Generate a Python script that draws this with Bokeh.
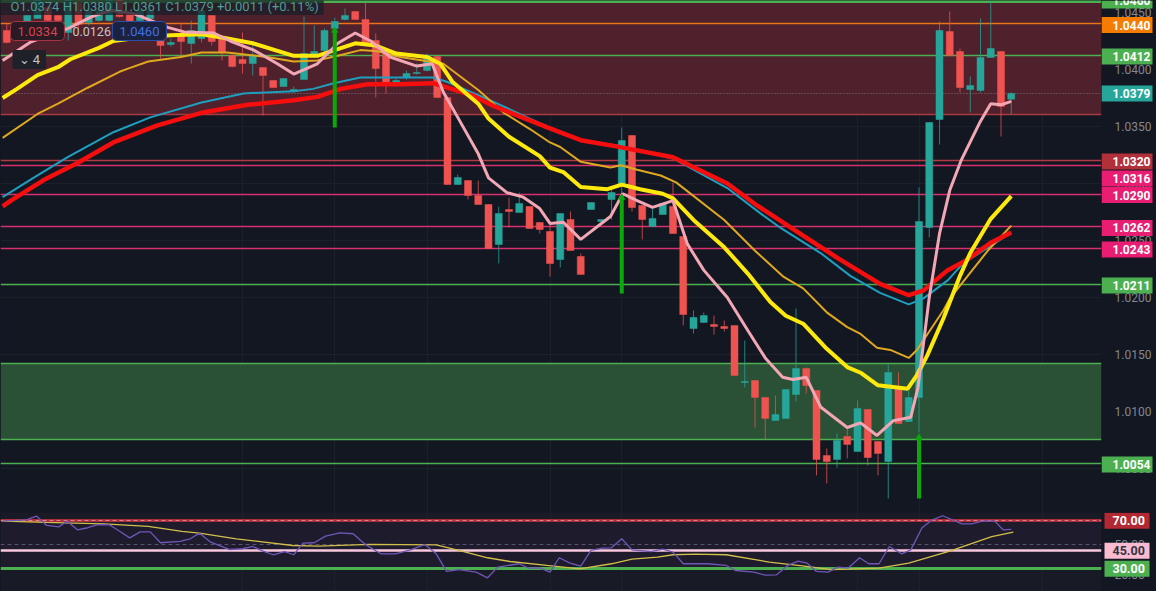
from bokeh.embed import file_html
from bokeh.resources import INLINE
from bokeh.plotting import figure
from bokeh.layouts import column
from bokeh.core.properties import value
from bokeh.models import Range1d, FixedTicker, NumeralTickFormatter, Label, ColumnDataSource

# ---------- candles (index, open, high, low, close) ----------
candle_idx = list(range(-3, 96))
opens = [
 1.04342,1.04412,1.04386,1.04447,1.04544,1.04474,1.04325,1.04579,1.04412,1.04430,
 1.04430,1.04605,1.04482,1.04430,1.04447,1.04316,1.04219,1.04316,1.04228,1.04272,
 1.04474,1.04272,1.04123,1.04088,1.04053,1.04018,1.03904,1.03851,1.03807,1.03912,
 1.04123,1.04167,1.04360,1.04439,1.04509,1.04439,1.04254,1.04149,1.03860,1.03930,
 1.03965,1.03991,1.04114,1.03754,1.02991,1.03026,1.02895,1.02816,1.02465,1.02772,
 1.02746,1.02798,1.02658,1.02579,1.02333,1.02684,1.02360,1.02772,1.02667,1.02860,
 1.02991,1.03421,1.02807,1.02623,1.02728,1.02798,1.02535,1.01728,1.01781,1.01763,
 1.01746,1.01754,1.01254,1.01272,1.01123,1.00921,1.00939,1.01149,1.01377,1.01184,
 1.00614,1.00579,1.00781,1.00649,1.01018,1.00737,1.00561,1.01211,1.00912,1.01123,
 1.02614,1.03561,1.04333,1.04158,1.03825,1.03816,1.04105,1.04158,1.0374]
highs = [
 1.04404,1.04421,1.04482,1.04605,1.04561,1.04482,1.04605,1.04605,1.04535,1.04535,
 1.04605,1.04605,1.04509,1.04535,1.04535,1.04325,1.04272,1.04412,1.04430,1.04535,
 1.04474,1.04272,1.04123,1.04325,1.04228,1.04018,1.03904,1.03921,1.03851,1.04465,
 1.04386,1.04360,1.04456,1.04535,1.04509,1.04605,1.04316,1.04149,1.03921,1.03991,
 1.04053,1.04140,1.04114,1.03754,1.03079,1.03026,1.03026,1.02816,1.02798,1.02877,
 1.02921,1.02798,1.02658,1.02649,1.02737,1.02754,1.02386,1.02833,1.02684,1.02956,
 1.03491,1.03421,1.02807,1.02781,1.02825,1.03009,1.02535,1.01886,1.01868,1.01842,
 1.01798,1.01754,1.01623,1.01272,1.01123,1.01140,1.01193,1.01903,1.01386,1.01184,
 1.00675,1.00807,1.00860,1.01097,1.01018,1.00737,1.01412,1.01342,1.01184,1.02965,
 1.03535,1.04421,1.04509,1.04184,1.03939,1.04447,1.04605,1.04158,1.0380]
lows = [
 1.04228,1.04333,1.04377,1.04447,1.04430,1.04421,1.04254,1.04360,1.04386,1.04421,
 1.04421,1.04456,1.04325,1.04421,1.04430,1.04097,1.04202,1.04105,1.04053,1.04237,
 1.04211,1.04079,1.04018,1.03965,1.03947,1.03596,1.03842,1.03851,1.03798,1.03912,
 1.04105,1.04097,1.04325,1.04430,1.04439,1.04202,1.03754,1.03789,1.03851,1.03912,
 1.03956,1.03982,1.03754,1.02991,1.02991,1.02860,1.02816,1.02430,1.02298,1.02614,
 1.02746,1.02605,1.02561,1.02184,1.02263,1.02412,1.02202,1.02772,1.02667,1.02684,
 1.02877,1.02754,1.02509,1.02623,1.02728,1.02561,1.01754,1.01684,1.01781,1.01675,
 1.01702,1.01316,1.01211,1.00860,1.00754,1.00921,1.00939,1.01088,1.01158,1.00439,
 1.00368,1.00509,1.00588,1.00649,1.00526,1.00439,1.00237,1.00895,1.00912,1.00816,
 1.02526,1.03342,1.04114,1.03798,1.03623,1.03798,1.04105,1.03412,1.0361]
closes = [
 1.04237,1.04342,1.04474,1.04605,1.04430,1.04430,1.04605,1.04395,1.04518,1.04518,
 1.04605,1.04465,1.04342,1.04518,1.04518,1.04211,1.04237,1.04246,1.04342,1.04518,
 1.04246,1.04149,1.04026,1.04053,1.04123,1.03947,1.03842,1.03921,1.03825,1.04140,
 1.04158,1.04342,1.04421,1.04474,1.04439,1.04211,1.04009,1.03877,1.03904,1.03965,
 1.03974,1.04123,1.03754,1.02991,1.03053,1.02895,1.02816,1.02430,1.02737,1.02754,
 1.02825,1.02605,1.02597,1.02298,1.02737,1.02412,1.02202,1.02833,1.02684,1.02921,
 1.03377,1.02789,1.02684,1.02693,1.02825,1.02561,1.01851,1.01825,1.01842,1.01746,
 1.01728,1.01316,1.01263,1.01123,1.00939,1.00974,1.01193,1.01377,1.01228,1.00579,
 1.00561,1.00746,1.00711,1.01026,1.00596,1.00632,1.01342,1.00895,1.01123,1.02667,
 1.03535,1.04342,1.04123,1.03842,1.03860,1.04105,1.04184,1.03675,1.0379]

# ---------- moving averages ----------
yellow_idx = [-3.4,-2,0,2,3.2,6,7.4,10,13,16,18,21,25,27.3,29,31,33,35,38,39.3,40.5,43,44,46,49,50,51.3,53,55.6,57,58.8,61,62,64,67,69.3,71.5,73,74.7,77,79,80.3,82,84.9,85.8,86.8,88.4,90,91,93,95]
yellow_val = [1.0375,1.0383,1.0395,1.0402,1.0409,1.0419,1.0425,1.0428,1.0430,1.0431,1.0428,1.0423,1.0412,1.0412,1.0417,1.0423,1.0421,1.0414,1.0411,1.0405,1.0389,1.0370,1.0357,1.0341,1.0324,1.0314,1.0310,1.0297,1.0295,1.0299,1.0295,1.0291,1.0287,1.0268,1.0244,1.0221,1.0196,1.0184,1.0177,1.0155,1.0139,1.0134,1.0123,1.0120,1.0132,1.0149,1.0182,1.0219,1.0239,1.0269,1.0289]
gold_idx = [-3.4,0,2,4.9,8,8.9,10.8,14,16,18.5,22.4,25,27.3,29.3,31.5,33.2,35.4,39.6,43,45.5,48,50,51,53,55.9,56.9,58.5,60.8,62.3,67,70,72.8,74.7,77,79,80.3,81.9,83.2,85,85.8,88.4,89,92.7,95]
gold_val = [1.0340,1.0361,1.0370,1.0384,1.0398,1.0401,1.0407,1.0411,1.0415,1.0415,1.0411,1.0407,1.0408,1.0412,1.0417,1.0416,1.0411,1.0405,1.0382,1.0362,1.0348,1.0336,1.0332,1.0319,1.0314,1.0316,1.0312,1.0307,1.0301,1.0268,1.0241,1.0218,1.0208,1.0187,1.0174,1.0168,1.0156,1.0154,1.0147,1.0154,1.0189,1.0199,1.0241,1.0263]
teal_idx = [-3.4,-0.4,2.9,7.4,11,16,20.1,25,26.9,28.9,31.5,35.4,38.6,40,43.9,49,53,56.9,62,67.3,70.5,72.5,76.4,79.3,82.2,85,86.4,88.8,90.3,93.3,95]
teal_val = [1.0288,1.0305,1.0323,1.0345,1.0358,1.0371,1.0379,1.0381,1.0383,1.0388,1.0393,1.0393,1.0393,1.0389,1.0374,1.0353,1.0338,1.0333,1.0322,1.0296,1.0274,1.0261,1.0239,1.0219,1.0204,1.0194,1.0199,1.0215,1.0230,1.0247,1.0257]
red_idx = [-3.4,-2.6,0.6,3.9,7.4,11.7,16,20.5,25,27.3,29.6,32.2,35.4,38.6,42.5,44.5,49.8,53,56.2,62,67.3,70,74.4,78,80,82.2,85,86.4,88.8,90.5,93,95]
red_val = [1.0280,1.0285,1.0303,1.0318,1.0336,1.0351,1.0362,1.0369,1.0373,1.0376,1.0383,1.0387,1.0387,1.0388,1.0377,1.0368,1.0349,1.0338,1.0333,1.0323,1.0300,1.0282,1.0256,1.0235,1.0224,1.0212,1.0202,1.0206,1.0224,1.0232,1.0248,1.0257]
pink_idx = [-3.4,-0.7,3,5.2,7.1,9.4,12.7,14.3,17.2,18.8,21.1,23.4,25,27.3,29.3,31,32.5,34.4,37,38.5,39.6,41,43,44,45.8,47.4,49,50,51.3,53,55.9,57.1,58.5,60,62,63.4,65,67.3,69.3,71,72.7,73.7,75,76.4,79,80.3,81.9,83.5,85.2,85.9,87,88,89,90.1,91.9,93,94,95]
pink_val = [1.0408,1.0424,1.0436,1.0446,1.0452,1.0449,1.0437,1.0433,1.0432,1.0425,1.0417,1.0405,1.0396,1.0405,1.0423,1.0432,1.0425,1.0411,1.0403,1.0405,1.0380,1.0358,1.0326,1.0305,1.0292,1.0288,1.0278,1.0265,1.0266,1.0251,1.0271,1.0291,1.0285,1.0279,1.0285,1.0247,1.0224,1.0200,1.0171,1.0147,1.0130,1.0128,1.0130,1.0104,1.0086,1.0090,1.0079,1.0092,1.0095,1.0121,1.0200,1.0256,1.0294,1.0320,1.0353,1.0370,1.0369,1.0372]

# ---------- RSI ----------
rsi_idx = [-3.4,-1.1,-0.1,0.9,2.1,2.9,3.9,4.9,5.9,7,7.9,9,10,11,12,13.9,14.9,15.8,16.9,18.7,20,21,22,23,24.1,25,25.9,27,28.1,29.5,30.8,31.9,33.5,34.9,36.4,37.8,38.9,39.9,41.1,42.8,43.9,44.9,47,47.9,49,50,50.9,51.9,53,54,55.1,56,57,58,59.8,61,62,63,65.4,67.2,68.1,69.9,71,72.1,73.2,74.2,75.1,76,77.1,78.1,79.1,80.2,81.1,82.1,83.1,84.3,85.2,86.3,87.2,88.3,90.2,91.1,92.2,93.4,94.2,95]
rsi_val = [69.7,70.8,73.9,66.1,65,69.7,62.5,64.2,66.7,66.7,61.9,55.8,60.8,60.8,51.7,52.8,55,59.7,52.2,46.1,46.7,48.6,44.7,41.7,44.4,41.7,51.4,51.7,57.2,60,59.2,50.8,42.5,42.5,45.8,50.3,42.5,27.8,29.4,27.2,22.5,31.4,34.2,30.6,30.8,27.2,39.2,35,32.2,45.3,47.2,47.5,55,45.8,44.4,46.4,43.9,34.2,34.2,32.8,28.6,27.2,24.7,25,32.8,36.4,34.7,27.8,27.2,31.4,30.6,39.2,34.2,34.2,48.6,42.5,45.8,64.2,70.3,74.2,67.5,67.5,69.7,69.7,62.5,62.8]
rsi_ma_idx = [-3.4,0.8,6.5,10.8,14.1,15.8,19.4,24.9,27.4,32.4,38.9,41.4,43.9,46.1,49.7,52.9,56,58,60.5,62,64.2,67.2,71.4,74.6,77.5,82.1,85,89,93.1,95.2]
rsi_ma_val = [69.7,68.6,67.5,65.3,61.1,59.7,55,49.4,48.9,50.3,50,44.7,39.2,36.1,32.8,30,34.2,38.1,39.7,41.7,42.2,41.7,35.6,32.5,29.4,30.6,34.7,44.7,56.9,60.6]

# ---------- levels, zones, tags ----------
level_prices = [1.0460,1.0440,1.0412,1.03605,1.0320,1.0316,1.0290,1.0262,1.0243,1.0211,1.01421,1.00754,1.0054]
level_colors = ["#4caf50","#e8751a","#4caf50","#a83a42","#b23a40","#d6306f","#d6306f","#d6306f","#d6306f","#4caf50","#4caf50","#4caf50","#4caf50"]
level_widths = [3,1.5,1.5,1.5,1.5,1.5,1.5,1.5,1.5,1.5,1.5,1.5,1.5]
zone_bottoms = [1.03605,1.00754]
zone_tops = [1.0460,1.01421]
zone_colors = ["#4e212c","#2a5135"]
last_price = [1.0379]
arrow_idx = [29,57,86]
arrow_top = [1.04342,1.02877,1.00772]
arrow_bot = [1.03491,1.02035,1.00237]
price_ticks = [1.0450,1.0400,1.0350,1.0300,1.0250,1.0200,1.0150,1.0100,1.0050]
time_grid = [20,29,38,50,57,80,86,98]
tag_texts = ["1.0460","1.0440","1.0412","1.0379","1.0320","1.0316","1.0290","1.0262","1.0243","1.0211","1.0054"]
tag_prices = [1.04605,1.0439,1.04114,1.03789,1.03193,1.03044,1.02899,1.0261,1.02421,1.02105,1.00535]
tag_fills = ["#4caf50","#f57c00","#4caf50","#26a69a","#b2303a","#e91e73","#e91e73","#e91e73","#e91e73","#4caf50","#4caf50"]
rsi_levels = [70,45,30]
rsi_level_colors = ["#b22d3a","#f8c8dc","#4caf50"]
rsi_level_widths = [3,2.5,3]
rsi_ticks = [75,50,25]
rsi_tag_texts = ["70.00","45.00","30.00"]
rsi_tag_fills = ["#b22833","#f8bbd0","#4caf50"]
rsi_tag_colors = ["#ffffff","#333340","#ffffff"]
legend_text = "O1.0374 H1.0380 L1.0361 C1.0379 +0.0011 (+0.11%)"

BG = "#131722"
UP, DOWN = "#26a69a", "#ef5350"
FONT = "Roboto"

# overlay helpers (pixel of the frame -> data), used only for the page furniture
def X(px): return (px - 37) / 10.25
def Y(py): return 1.04 + (69 - py) * 87.72e-6

x_range = Range1d(X(0), X(1101))
price_range = Range1d(Y(512), Y(0))
rsi_range = Range1d(11.1, 76.9)

p = figure(width=1156, height=512, x_range=x_range, y_range=price_range,
           output_backend="svg", toolbar_location=None, x_axis_location=None, y_axis_location="right",
           min_border_left=0, min_border_top=0, min_border_bottom=0, min_border_right=55,
           background_fill_color=BG, border_fill_color=BG, outline_line_color=None)
p.yaxis.ticker = FixedTicker(ticks=price_ticks)
p.yaxis.formatter = NumeralTickFormatter(format="0.0000")
p.yaxis.major_tick_line_color = None
p.yaxis.minor_tick_line_color = None
p.yaxis.axis_line_color = None
p.yaxis.major_label_text_color = "#83868f"
p.yaxis.major_label_text_font = FONT
p.yaxis.major_label_text_font_size = "12px"
p.yaxis.major_label_standoff = 7
p.ygrid.grid_line_color = "#1c202b"
p.xgrid.ticker = FixedTicker(ticks=time_grid)
p.xgrid.grid_line_color = "#1c202b"

p.hstrip(y0=zone_bottoms, y1=zone_tops, fill_color=zone_colors, line_color=None)
p.hspan(y=level_prices, line_color=level_colors, line_width=level_widths)
p.hspan(y=last_price, line_color="#8f9aa0", line_width=1, line_dash="1 2", line_alpha=0.7)

colors = [UP if c >= o else DOWN for o, c in zip(opens, closes)]
src = ColumnDataSource(dict(x=candle_idx, o=opens, h=highs, l=lows, c=closes, color=colors))
p.segment("x", "h", "x", "l", color="color", line_width=1, line_alpha=0.75, source=src)
p.vbar("x", width=0.68, top="o", bottom="c", fill_color="color", line_color="color", line_width=0.5, source=src)

p.line(teal_idx, teal_val, line_color="#1f9fbf", line_width=2)
p.line(gold_idx, gold_val, line_color="#dfa81e", line_width=2)
p.line(red_idx, red_val, line_color="#f50e0e", line_width=4.5)
p.line(yellow_idx, yellow_val, line_color="#fdea0c", line_width=4)
p.line(pink_idx, pink_val, line_color="#f2a7b5", line_width=3)
p.segment(arrow_idx, arrow_top, arrow_idx, arrow_bot, line_color="#0ba80b", line_width=4)
p.scatter(arrow_idx, arrow_top, marker="triangle", size=6, color="#0ba80b")

# top-left readout
p.add_layout(Label(x=X(0), y=Y(6), text=legend_text, text_color="#4e9c95", text_font=FONT,
                   text_font_size="13px", text_baseline="middle", text_align="left",
                   background_fill_color="#1a1d27", background_fill_alpha=0.75, padding=(10, 5, 1, 1)))
p.add_layout(Label(x=X(10), y=Y(30.5), text="1.0334", text_color="#d8434f", text_font=FONT, text_font_size="13px",
                   text_baseline="middle", text_align="left", background_fill_color="#2a1a24",
                   border_line_color="#a83246", border_line_width=1, padding=(7, 7, 5, 5), border_radius=4))
p.add_layout(Label(x=X(72), y=Y(30.5), text="0.0126", text_color="#c3c6ce", text_font=FONT, text_font_size="12.5px",
                   text_baseline="middle", text_align="left"))
p.add_layout(Label(x=X(112), y=Y(30.5), text="1.0460", text_color="#3f70e4", text_font=FONT, text_font_size="13px",
                   text_baseline="middle", text_align="left", background_fill_color="#1b2240",
                   border_line_color="#2a4fa8", border_line_width=1, padding=(7, 7, 5, 5), border_radius=4))
p.add_layout(Label(x=X(12), y=Y(59), text="\u2304 4", text_color="#c3c6ce", text_font=FONT, text_font_size="13px",
                   text_baseline="middle", text_align="left", background_fill_color="#1f2129",
                   padding=(6, 6, 2, 2), border_radius=2))

# RSI pane
RSI_BG = "#181a26"
r = figure(width=1156, height=79, x_range=x_range, y_range=rsi_range,
           output_backend="svg", toolbar_location=None, x_axis_location=None, y_axis_location="right",
           min_border_left=0, min_border_top=0, min_border_bottom=0, min_border_right=55,
           background_fill_color=RSI_BG, border_fill_color=BG, outline_line_color=None)
r.yaxis.ticker = FixedTicker(ticks=rsi_ticks)
r.yaxis.formatter = NumeralTickFormatter(format="0.00")
r.yaxis.major_tick_line_color = None
r.yaxis.minor_tick_line_color = None
r.yaxis.axis_line_color = None
r.yaxis.major_label_text_color = "#83868f"
r.yaxis.major_label_text_font = FONT
r.yaxis.major_label_text_font_size = "12px"
r.yaxis.major_label_standoff = 7
r.ygrid.grid_line_color = None
r.xgrid.ticker = FixedTicker(ticks=time_grid)
r.xgrid.grid_line_color = "#1e212d"

r.hstrip(y0=[30], y1=[70], fill_color="#1e1b2d", line_color=None)
r.hspan(y=[50], line_color="#55526a", line_width=1, line_dash="4 3")
r.hspan(y=rsi_levels, line_color=rsi_level_colors, line_width=rsi_level_widths)
r.hspan(y=rsi_levels[:1], line_color="#e6b8bd", line_width=0.8, line_dash="4 3", line_alpha=0.8)
r.line(rsi_ma_idx, rsi_ma_val, line_color="#d2bf4a", line_width=1.3)
r.line(rsi_idx, rsi_val, line_color="#6f57b8", line_width=1.3)

# ---------- transparent strips over the axes, carrying the coloured tags ----------
def tag_strip(y_range, height, top, texts, ys, fills, text_colors, box_left, box_right, box_h, text_x, size):
    s = figure(width=55, height=height, x_range=Range1d(0, 55), y_range=y_range,
               output_backend="svg", toolbar_location=None, x_axis_location=None, y_axis_location=None,
               min_border=0, background_fill_color=None, border_fill_color=None, outline_line_color=None)
    s.grid.visible = False
    src = ColumnDataSource(dict(y=ys, t=texts, f=fills, c=text_colors,
                                x=[text_x] * len(ys), l=[box_left] * len(ys), r=[box_right] * len(ys)))
    s.hbar(y="y", height=box_h, left="l", right="r", fill_color="f", line_color=None, source=src)
    s.text(x="x", y="y", text="t", text_color="c", text_font=value(FONT), text_font_size=size,
           text_font_style="bold", text_baseline="middle", text_align="left", source=src)
    s.styles = {"position": "absolute", "left": "1101px", "top": f"{top}px"}
    return s

price_tags = tag_strip(price_range, 512, 0, tag_texts, tag_prices, tag_fills, ["#ffffff"] * len(tag_texts),
                       0, 51, 16 * 87.72e-6, 11, "12px")
rsi_tags = tag_strip(rsi_range, 79, 512, rsi_tag_texts, rsi_levels, rsi_tag_fills, rsi_tag_colors,
                     3, 48, 16 / 1.2, 11, "12.5px")

layout = column(p, r, spacing=0)
layout.styles = {"position": "absolute", "left": "0px", "top": "0px", "background-color": BG}

open("out.html", "w").write(file_html([layout, price_tags, rsi_tags], INLINE))
